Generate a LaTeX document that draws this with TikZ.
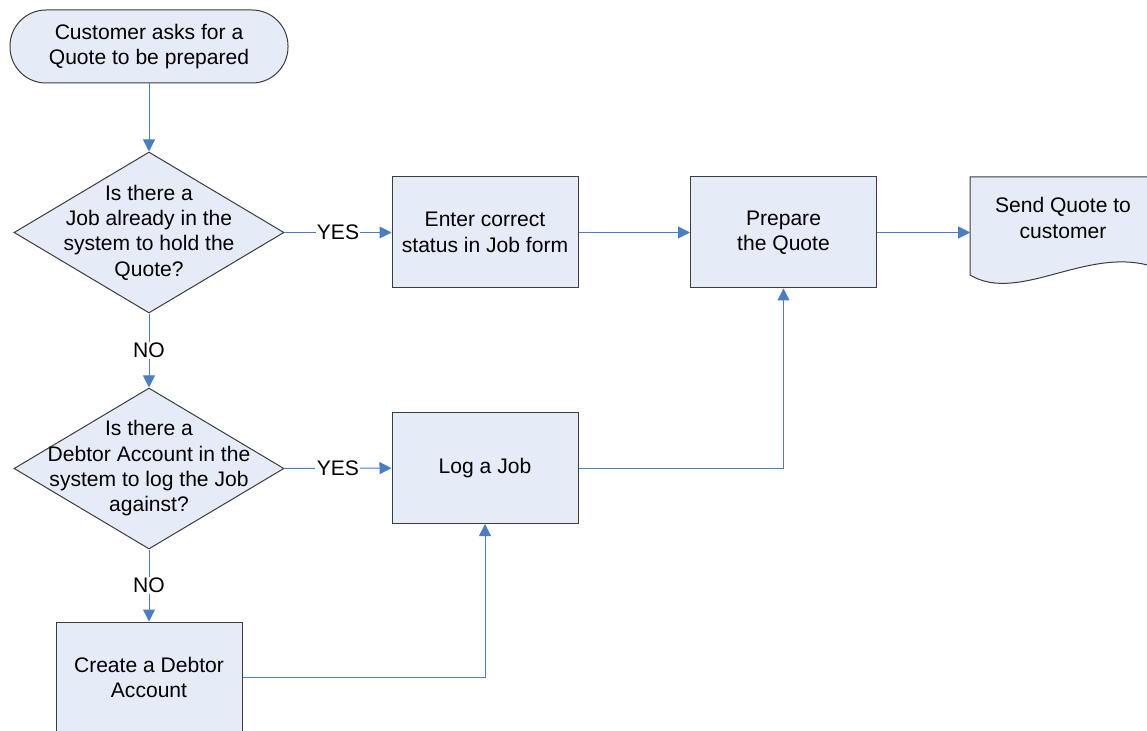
\documentclass[tikz,border=0pt]{standalone}
\usepackage{fontspec}
\setmainfont{Liberation Sans}
\usetikzlibrary{shapes.geometric,arrows.meta}
\definecolor{boxfill}{HTML}{E6ECF7}
\definecolor{boxline}{HTML}{3C3C3C}
\definecolor{flowline}{HTML}{4A7EC4}
\begin{document}
\begin{tikzpicture}[x=0.75pt, y=-0.75pt, font=\fontsize{15.8}{19}\selectfont,
    terminal/.style={draw=boxline, fill=boxfill, line width=0.75pt, rounded corners=27pt,
      minimum width=208.5pt, minimum height=54.75pt, align=center},
    process/.style={draw=boxline, fill=boxfill, line width=0.75pt,
      minimum width=139.5pt, minimum height=83.25pt, align=center},
    decision/.style={diamond, draw=boxline, fill=boxfill, line width=0.75pt,
      minimum width=202.5pt, minimum height=120.75pt, inner sep=0pt},
    flow/.style={draw=flowline, line width=0.75pt, -{Triangle[length=9pt, width=9pt]}},
    answer/.style={fill=white, inner sep=1pt}]
  \clip (0,0) rectangle (1147,731);
  % left column
  \node[terminal] (ask) at (149,46.5) {Customer asks for a\\Quote to be prepared};
  \node[decision] (jobq) at (149,232.5) {};
  \node[align=center] (jobqtext) at (jobq) {Is there a\\Job already in the\\system to hold the\\Quote?};
  \node[decision] (debtq) at (149,468.5) {};
  \node[align=center] (debtqtext) at (debtq) {Is there a\\Debtor Account in the\\system to log the Job\\against?};
  \node[process] (create) at (149,677.5) {Create a Debtor\\Account};
  % middle and right
  \node[process] (status) at (485,232.5) {Enter correct\\status in Job form};
  \node[process] (log) at (485,468) {Log a Job};
  \node[process] (prep) at (783.5,232.5) {Prepare\\the Quote};
  \node[minimum width=139.5pt, minimum height=83.25pt, inner sep=0pt] (send) at (1063.5,232.5) {};
  \draw[draw=boxline, fill=boxfill, line width=0.75pt] (970,177) -- (1157,177) -- (1157,268)
    .. controls (1090,243) and (1020,305) .. (970,275) -- cycle;
  \node[align=center] (sendtext) at (1063,218) {Send Quote to\\customer};
  % connectors
  \draw[flow] (ask) -- (jobq);
  \draw[flow] (jobq) -- node[answer] {YES} (status);
  \draw[flow] (status) -- (prep);
  \draw[flow] (prep) -- (send);
  \draw[flow] (jobq) -- node[answer] {NO} (debtq);
  \draw[flow] (debtq) -- node[answer] {YES} (log);
  \draw[flow] (debtq) -- node[answer] {NO} (create);
  \draw[flow] (log) -| (prep);
  \draw[flow] (create) -| (log);
\end{tikzpicture}
\end{document}
